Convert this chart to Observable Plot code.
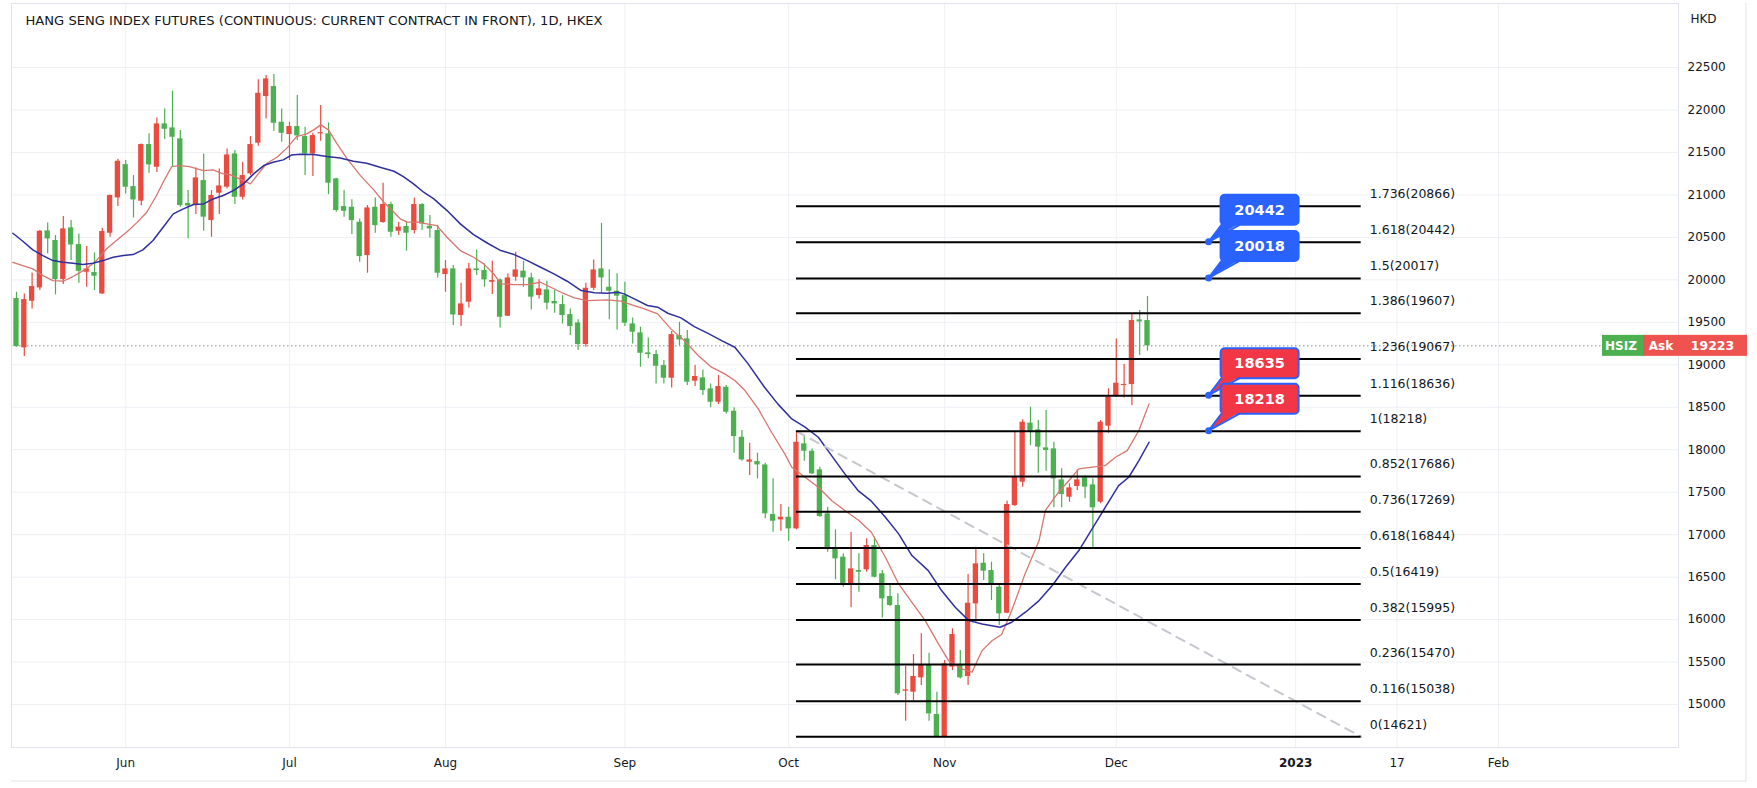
<!DOCTYPE html>
<html><head><meta charset="utf-8">
<script src="https://cdn.jsdelivr.net/npm/d3@7"></script>
<script src="https://cdn.jsdelivr.net/npm/@observablehq/plot@0.6"></script>
<style>
html,body{margin:0;padding:0;background:#fff;}
#chart{width:1757px;height:788px;}
</style></head>
<body><div id="chart"></div>
<script>
const titleText = "HANG SENG INDEX FUTURES (CONTINUOUS: CURRENT CONTRACT IN FRONT), 1D, HKEX";
const currencyLabel = "HKD";

// Daily candles (bar index 0 = 12 May 2022 ... 145 = 7 Dec 2022)
const openV  = [19780,19199,19748,19905,20577,20463,20003,20612,20415,20090,20086,19835,20549,20965,21357,21098,20926,21593,21326,21836,21789,21660,20900,20887,21169,20698,21020,21091,21483,20973,21248,21609,22158,22276,21856,21711,21805,21687,21483,21720,21719,21189,20863,20855,20679,20286,20855,20675,20887,20573,20628,20581,20887,20632,20581,20062,20129,19580,19737,20129,20110,19972,20000,19572,20031,20102,20023,19815,19882,19745,19709,19591,19493,19238,19901,20129,19913,19866,19815,19482,19376,19140,19121,18991,18842,19344,19305,18807,18846,18716,18559,18736,18453,18147,17853,17861,17821,17237,17174,17205,17068,18069,17982,17763,17245,16833,16735,16421,16578,16586,16872,16539,16272,16166,15157,15145,15314,15471,14882,14623,15440,15471,15330,16185,16664,16578,16382,16075,17343,17618,18313,18234,18022,18010,17645,17441,17567,17669,17586,17382,18277,18630,18756,18767,19529,19521];
const highV  = [19855,19835,20082,20580,20671,20522,20745,20698,20541,20392,20317,20608,21000,21421,21405,21228,21601,21719,21907,22013,22221,21758,21052,21318,21483,21051,21306,21542,21522,21385,21687,22355,22405,22417,22013,21856,22170,21797,21727,22053,21848,21197,21051,20942,20718,20875,20965,21138,20914,20679,20679,20965,20895,20757,20639,20227,20168,19960,20196,20353,20188,20219,20011,20070,20325,20219,20078,20000,19984,19874,19815,19658,19529,19960,20235,20667,20118,20071,19972,19552,19443,19317,19168,19050,19392,19501,19403,18991,18940,18775,18873,18756,18493,18226,18077,17959,17841,17657,17354,17323,18218,18167,18010,17794,17324,17057,16774,17029,16774,16951,16970,16578,16401,16303,15447,15589,15832,15604,15145,15518,15891,15636,16531,16853,16774,16676,16413,17394,18207,18352,18501,18344,18462,18089,17775,17598,17763,17696,17657,18344,18717,19305,19003,19600,19639,19804];
const lowV   = [19207,19097,19658,19874,20306,19823,19944,20227,19960,19913,19874,19827,20502,20863,21012,20729,20871,21255,21263,21652,21334,20855,20483,20769,20573,20502,20769,21071,20887,20941,21228,21573,21895,21750,21620,21405,21640,21228,21216,21632,21004,20796,20738,20533,20208,20078,20549,20667,20502,20522,20337,20541,20581,20494,20023,19854,19462,19450,19670,20051,19913,19827,19434,19568,19984,19913,19646,19776,19646,19607,19481,19344,19168,19207,19874,19843,19529,19411,19450,19246,18971,19070,18775,18775,18728,19227,18756,18744,18638,18493,18532,18422,17959,17865,17696,17657,17186,17029,17040,16923,17056,17865,17708,17205,16794,16468,16382,16138,16323,16558,16491,16020,16154,15106,14804,15047,15224,14804,14621,14621,15400,15302,15224,15958,16460,16225,15930,16068,17331,17559,18050,17724,17747,17316,17316,17382,17520,17422,16833,17363,18195,18618,18610,18520,19109,19160];
const closeV = [19215,19768,19921,20573,20482,20003,20600,20411,20101,20129,20043,20569,20993,21397,21091,20941,21593,21354,21836,21773,21679,20875,20870,21201,20738,20993,21106,21471,20973,21228,21593,22197,22366,21844,21726,21805,21695,21483,21699,21730,21138,20816,20808,20698,20274,20847,20639,20887,20561,20620,20549,20887,20659,20600,20078,20129,19587,19717,20129,20110,20000,19992,19560,20023,20117,20023,19796,19894,19725,19717,19580,19450,19238,19901,20117,20023,19866,19808,19490,19384,19136,19121,18983,18842,19356,19293,18795,18862,18697,18559,18744,18442,18155,17880,17880,17821,17245,17158,17205,17068,18088,17982,17716,17213,16833,16715,16401,16597,16558,16872,16499,16244,16166,15126,15173,15330,15471,14890,14623,15479,15824,15314,16193,16656,16570,16413,16068,17355,17677,18324,18218,18030,17991,17657,17473,17551,17645,17559,17316,18324,18619,18783,18767,19521,19505,19223];

// Moving averages: [bar index, value]
const redMA = [[-0.47,20207],[0.81,20168],[2.1,20129],[3.38,20050],[4.67,19992],[5.96,19984],[7.24,20039],[8.95,20129],[10.24,20227],[11.53,20364],[12.81,20463],[14.1,20561],[15.4,20671],[16.7,20796],[17.95,20993],[18.8,21150],[19.9,21334],[20.95,21346],[22.2,21334],[23.95,21287],[25.2,21295],[26.5,21248],[27.4,21240],[29.1,21169],[30.0,21130],[31.0,21248],[32.1,21373],[33.4,21444],[34.7,21554],[35.9,21687],[37.2,21719],[38.1,21766],[39.0,21825],[40.0,21766],[41.1,21601],[42.4,21424],[44.1,21228],[45.8,21059],[47.1,20914],[48.4,20796],[49.2,20718],[50.1,20679],[51.4,20679],[52.6,20659],[53.9,20639],[55.2,20502],[56.9,20345],[58.6,20266],[59.9,20188],[61.2,20070],[62.1,19953],[63.8,19945],[65.5,19945],[67.2,19972],[68.5,19913],[69.8,19854],[71.5,19788],[73.2,19756],[75.8,19764],[77.5,19749],[78.8,19709],[80.5,19658],[82.2,19600],[83.9,19423],[85.6,19286],[87.4,19109],[89.1,18972],[90.8,18893],[92.1,18815],[93.4,18697],[95.1,18481],[96.8,18206],[98.5,17951],[99.4,17794],[101.1,17676],[102.8,17558],[104.5,17402],[106.2,17284],[108.0,17166],[109.6,17029],[111.4,16734],[113.1,16420],[114.8,16204],[116.5,15988],[118.2,15714],[119.5,15517],[121.2,15419],[122.5,15380],[123.8,15635],[125.1,15753],[126.3,15824],[127.6,16106],[129.3,16538],[131.1,16931],[131.9,17284],[133.6,17500],[135.3,17676],[136.2,17774],[137.9,17794],[139.6,17814],[140.9,17912],[142.4,17990],[143.9,18226],[145.2,18540]];
const blueMA = [[-0.47,20549],[0.81,20455],[2.1,20353],[3.38,20286],[4.67,20227],[5.96,20208],[7.24,20196],[8.5,20180],[9.8,20196],[11.1,20227],[12.4,20266],[13.7,20286],[14.95,20298],[16.2,20353],[17.5,20463],[18.8,20620],[20.1,20777],[21.4,20836],[22.7,20887],[24.0,20894],[25.2,20953],[26.5,20993],[27.8,21051],[29.1,21130],[30.4,21248],[31.7,21346],[32.9,21385],[34.2,21413],[35.3,21471],[36.4,21478],[38.1,21475],[39.8,21452],[41.5,21436],[43.2,21397],[44.9,21373],[46.6,21326],[48.4,21279],[49.6,21216],[50.9,21130],[52.2,21032],[53.5,20953],[55.2,20816],[56.9,20659],[58.6,20533],[60.4,20431],[62.1,20345],[63.8,20298],[65.5,20227],[67.2,20149],[68.9,20070],[70.6,19984],[72.4,19874],[74.1,19847],[75.8,19843],[77.1,19855],[77.9,19835],[79.2,19776],[80.9,19698],[82.2,19678],[83.5,19607],[85.2,19552],[86.9,19450],[88.6,19372],[90.4,19285],[92.1,19207],[93.8,19011],[95.9,18736],[97.6,18540],[99.4,18363],[101.1,18265],[102.8,18147],[104.5,17931],[106.2,17716],[107.9,17519],[109.6,17394],[111.4,17205],[113.1,17009],[114.8,16754],[116.9,16577],[118.6,16342],[120.35,16146],[122.1,15988],[123.8,15949],[126.1,15910],[127.6,15969],[129.35,16087],[131.1,16224],[132.8,16401],[134.5,16617],[136.2,16813],[137.9,17068],[139.6,17323],[141.3,17578],[142.6,17676],[143.9,17872],[145.2,18088]];

// Fibonacci retracement
const fibLevels = [0,0.116,0.236,0.382,0.5,0.618,0.736,0.852,1,1.116,1.236,1.386,1.5,1.618,1.736];
const fibValues = [14621,15038,15470,15995,16419,16844,17269,17686,18218,18636,19067,19607,20017,20442,20866];
const fibStartIdx = 100, fibEndIdx = 172.4, fibLabelIdx = 173.5;
const fibDiagonal = [{i:100, v:18218},{i:172.4, v:14621}];

// Callouts
const calloutIdx = 152.9;
const callouts = [
  {label:"20442", level:20442, kind:"blue"},
  {label:"20018", level:20017, kind:"blue"},
  {label:"18635", level:18636, kind:"red"},
  {label:"18218", level:18218, kind:"red"}
];
const lastPrice = 19223;
const symbolLabel = "HSIZ", askLabel = "Ask";

// Axes
const yTicks = [15000,15500,16000,16500,17000,17500,18000,18500,19000,19500,20000,20500,21000,21500,22000,22500];
const xTickIdx = [14,35,55,78,99,119,141,164,177,190];
const xTickLabels = ["Jun","Jul","Aug","Sep","Oct","Nov","Dec","2023","17","Feb"];

const RED = "#eb4a3f", GREEN = "#4caf50", TXT = "#131722", GRID = "#eef0f4";
const candles = openV.map((o,i)=>({i, o, h:highV[i], l:lowV[i], c:closeV[i]}));
const fib = fibLevels.map((lv,k)=>({lv, v:fibValues[k]}));
const ticks = xTickIdx.map((i,k)=>({i, label:xTickLabels[k]}));
const col = d => d.c >= d.o ? RED : GREEN;

const plot = Plot.plot({
  width:1757, height:788,
  marginLeft:11, marginRight:79, marginTop:3, marginBottom:41,
  x:{domain:[-0.64, 213.08], axis:null},
  y:{domain:[14494, 23254], axis:null},
  color:{type:"identity"},
  style:{fontFamily:"DejaVu Sans, sans-serif", background:"#fff", overflow:"visible"},
  marks:[
    Plot.ruleY(yTicks, {stroke:GRID}),
    Plot.ruleX(ticks, {x:"i", stroke:GRID}),
    Plot.ruleY([lastPrice], {stroke:"#868993", strokeDasharray:"1.5,2.5"}),
    Plot.ruleX(candles, {x:"i", y1:"l", y2:"h", stroke:col, strokeWidth:1.2}),
    Plot.rect(candles, {x1:d=>d.i-0.34, x2:d=>d.i+0.34, y1:d=>Math.min(d.o,d.c), y2:d=>Math.max(d.o,d.c,Math.min(d.o,d.c)+13), fill:col}),
    Plot.line(redMA, {x:d=>d[0], y:d=>d[1], stroke:"#d9756e", strokeWidth:1.3, clip:true}),
    Plot.line(blueMA, {x:d=>d[0], y:d=>d[1], stroke:"#2f2f9e", strokeWidth:1.5, clip:true}),
    Plot.line(fibDiagonal, {x:"i", y:"v", stroke:"#c4c7cd", strokeWidth:2, strokeDasharray:"9,7"}),
    Plot.ruleY(fib, {y:"v", x1:d=>fibStartIdx, x2:d=>fibEndIdx, stroke:"#000", strokeWidth:2}),
    Plot.text(fib, {x:d=>fibLabelIdx, y:"v", text:d=>`${d.lv}(${d.v})`, textAnchor:"start", dy:-12, fontSize:12.5, fill:TXT}),
    Plot.axisY(yTicks, {anchor:"right", tickSize:0, tickPadding:9, tickFormat:"d", fontSize:12, color:TXT}),
    Plot.text(ticks.filter(d=>d.label!=="2023"), {x:"i", text:"label", frameAnchor:"bottom", lineAnchor:"middle", dy:16, fontSize:12, fill:TXT}),
    Plot.text(ticks.filter(d=>d.label==="2023"), {x:"i", text:"label", frameAnchor:"bottom", lineAnchor:"middle", dy:16, fontSize:12, fontWeight:"bold", fill:TXT}),
    Plot.text([titleText], {text:d=>d, frameAnchor:"top-left", lineAnchor:"middle", dx:14, dy:17, textAnchor:"start", fontSize:13.1, fill:TXT}),
    Plot.text([currencyLabel], {text:d=>d, frameAnchor:"top-right", lineAnchor:"middle", textAnchor:"middle", dx:25, dy:16, fontSize:12, fill:TXT}),
    Plot.frame({stroke:"#e0e3eb"})
  ]
});

const X = plot.scale("x"), Y = plot.scale("y");
const svg = d3.select(plot);
const ann = svg.append("g").attr("text-anchor","start");
// outer border
ann.append("path").attr("d", `M11,781H1746V3`).attr("fill","none").attr("stroke","#e0e3eb");

for (const c of callouts) {
  const cx = X.apply(calloutIdx), cy = Y.apply(c.level);
  const bx = cx + 12, bw = 78, bh = 30, by = cy - 47;
  const fill = c.kind === "blue" ? "#2962ff" : "#f23645";
  ann.append("rect").attr("x",bx).attr("y",by).attr("width",bw).attr("height",bh).attr("rx",4)
     .attr("fill",fill).attr("stroke","#2962ff").attr("stroke-width",2);
  ann.append("path").attr("d",`M${cx},${cy}L${bx+1},${by+bh-1.5}L${bx+19},${by+bh-1.5}Z`).attr("fill",fill);
  ann.append("path").attr("d",`M${bx+1},${by+bh}L${cx},${cy}L${bx+19},${by+bh}`)
     .attr("fill","none").attr("stroke","#2962ff").attr("stroke-width",2);
  ann.append("circle").attr("cx",cx).attr("cy",cy).attr("r",3.5).attr("fill","#2962ff");
  ann.append("text").attr("x",bx+bw/2).attr("y",by+bh/2).attr("dy","0.36em").attr("text-anchor","middle")
     .attr("fill","#fff").attr("font-weight","bold").attr("font-size",14.5).attr("font-family","DejaVu Sans, sans-serif").text(c.label);
}

// last price tag
const py = Y.apply(lastPrice);
const tag = svg.append("g").attr("font-family","DejaVu Sans, sans-serif").attr("text-anchor","start");
tag.append("rect").attr("x",1602).attr("y",py-10.5).attr("width",42).attr("height",21).attr("fill","#4caf50");
tag.append("text").attr("x",1605).attr("y",py).attr("dy","0.36em").attr("text-anchor","start").attr("fill","#fff").attr("font-size",12).attr("font-weight","bold").text(symbolLabel);
tag.append("rect").attr("x",1643).attr("y",py-10.5).attr("width",35).attr("height",21).attr("fill","#ef5350");
tag.append("text").attr("x",1661).attr("y",py).attr("dy","0.36em").attr("text-anchor","middle").attr("fill","#fff").attr("font-size",12).attr("font-weight","bold").text(askLabel);
tag.append("rect").attr("x",1678).attr("y",py-10.5).attr("width",69).attr("height",21).attr("fill","#ef5350");
tag.append("text").attr("x",1712.5).attr("y",py).attr("dy","0.36em").attr("text-anchor","middle").attr("fill","#fff").attr("font-size",12.5).attr("font-weight","bold").text(String(lastPrice));

document.getElementById("chart").appendChild(plot);
</script>
</body></html>
